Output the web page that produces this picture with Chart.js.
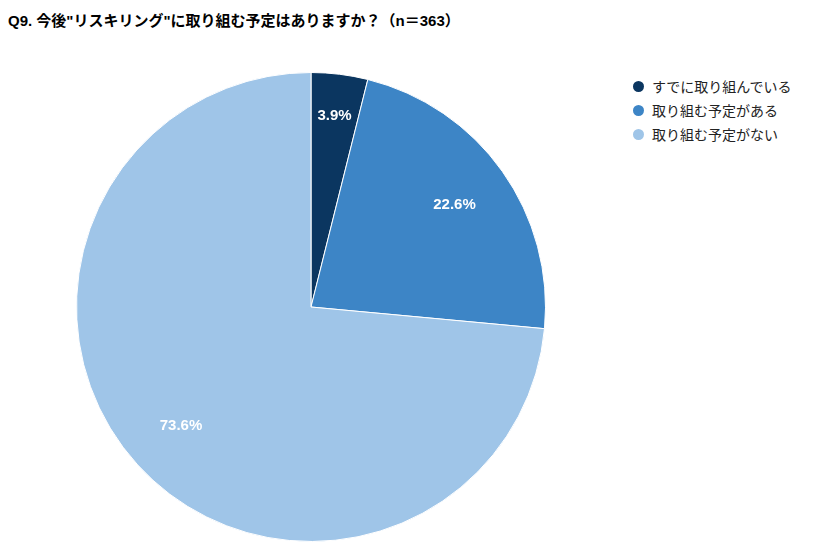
<!DOCTYPE html>
<html><head><meta charset="utf-8">
<script src="https://cdn.jsdelivr.net/npm/chart.js@4"></script>
<style>
body{margin:0;width:832px;height:559px;background:#fff;font-family:Arial,"Liberation Sans","Noto Sans CJK JP",sans-serif;position:relative;overflow:hidden}
#title{position:absolute;left:8px;top:9px;font-size:15px;font-weight:bold;color:#000}
#wrap{position:absolute;left:0;top:60px;width:622px;height:494px}
#legend{position:absolute;left:633px;top:74px;font-size:14px;color:#222}
.li{display:flex;align-items:center;height:24px}
.dot{width:11px;height:11px;border-radius:50%;margin-right:8px}
</style></head><body>
<div id="title">Q9. 今後"リスキリング"に取り組む予定はありますか？（n＝363）</div>
<div id="wrap"><canvas id="c"></canvas></div>
<div id="legend"></div>
<script>
const labels=["すでに取り組んでいる","取り組む予定がある","取り組む予定がない"];
const values=[3.9,22.6,73.6];
const colors=["#0b3660","#3d85c6","#9fc5e8"];
const lg=document.getElementById('legend');
labels.forEach((l,i)=>{lg.innerHTML+=`<div class="li"><span class="dot" style="background:${colors[i]}"></span>${l}</div>`;});
const lab={id:'lab',afterDatasetsDraw(ch){const c=ch.ctx;ch.getDatasetMeta(0).data.forEach((a,i)=>{const m=(a.startAngle+a.endAngle)/2;const r=a.outerRadius*(i==0?0.82:0.75);c.save();c.fillStyle='#fff';c.font='bold 15px Arial';c.textAlign='center';c.textBaseline='middle';c.fillText(values[i].toFixed(1)+'%',a.x+Math.cos(m)*r,a.y+Math.sin(m)*r);c.restore();});}};
new Chart(document.getElementById('c'),{type:'pie',data:{labels,datasets:[{data:values,backgroundColor:colors,borderColor:'#fff',borderWidth:1}]},
options:{responsive:true,maintainAspectRatio:false,animation:false,layout:{padding:12},plugins:{legend:{display:false},tooltip:{enabled:false}}},plugins:[lab]});
</script></body></html>
